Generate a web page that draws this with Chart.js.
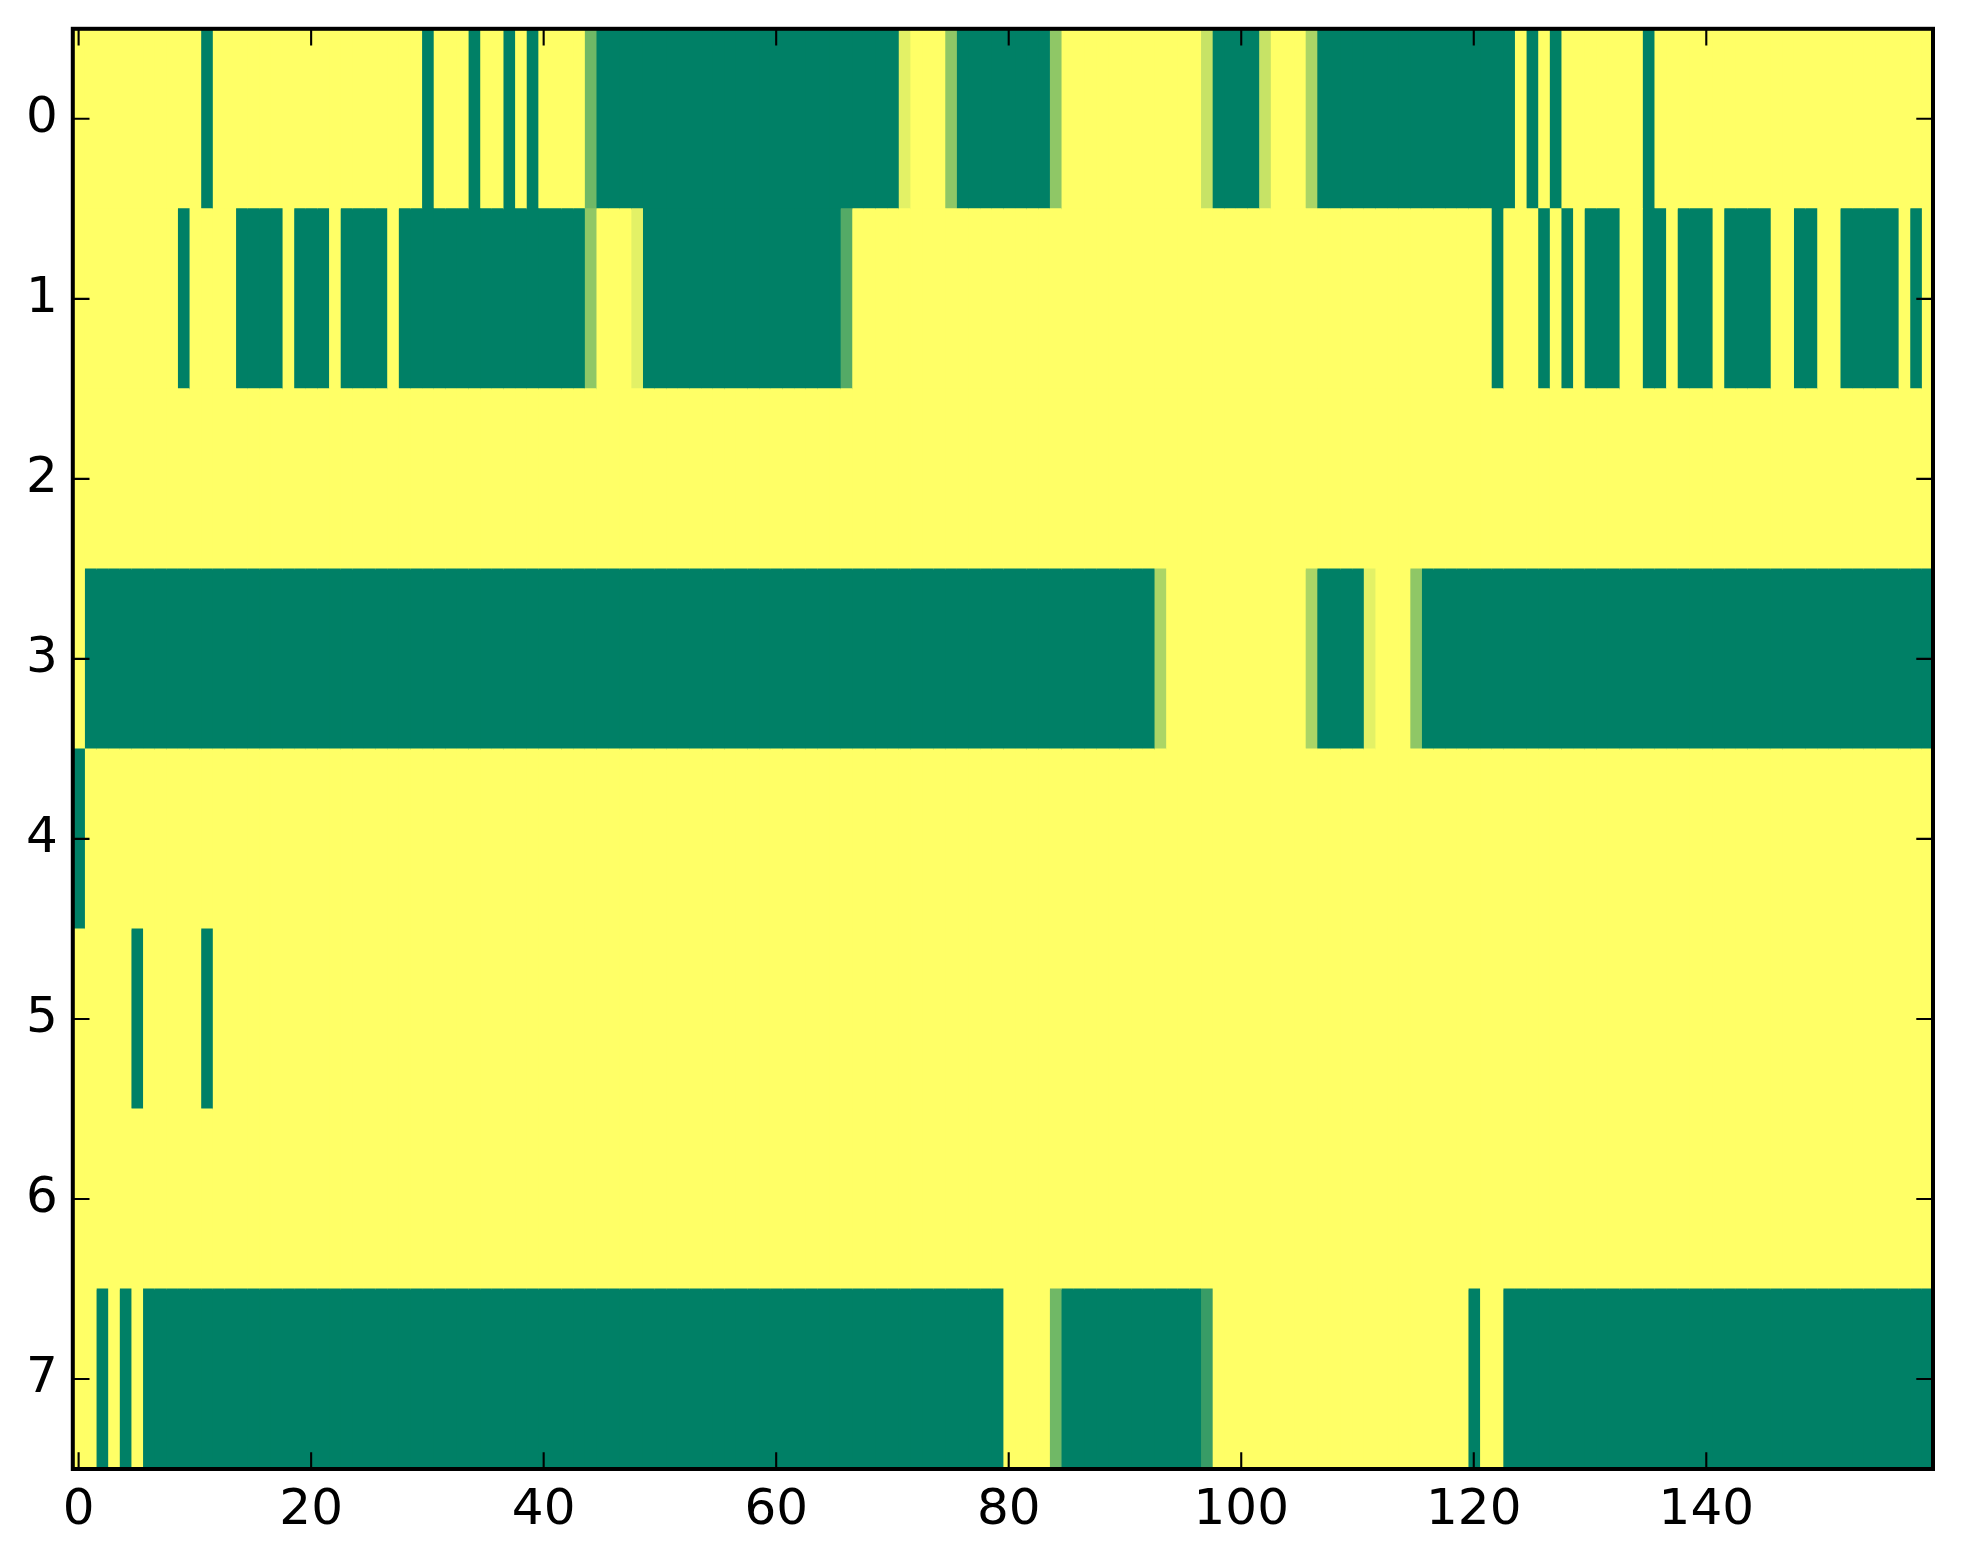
<!DOCTYPE html>
<html lang="en">
<head>
<meta charset="UTF-8">
<title>Heatmap</title>
<script src="https://cdn.jsdelivr.net/npm/chart.js@4.4.0/dist/chart.umd.min.js"></script>
<style>
    html, body { margin: 0; padding: 0; background: #fff; }
    #wrap { width: 1963px; height: 1564px; }
</style>
</head>
<body>
<div id="wrap"><canvas id="heat"></canvas></div>
<script>
// row labels (y axis) and x tick positions
const rowLabels = ['0', '1', '2', '3', '4', '5', '6', '7'];
const xTicks = [0, 20, 40, 60, 80, 100, 120, 140];

// cell values, 160 columns per row (0 = green, 1 = yellow)
const row0 = [
    1,1,1,1,1,1,1,1,1,1, 1,0,1,1,1,1,1,1,1,1,
    1,1,1,1,1,1,1,1,1,1, 0,1,1,1,0,1,1,0,1,0,
    1,1,1,1,0.44,0,0,0,0,0, 0,0,0,0,0,0,0,0,0,0,
    0,0,0,0,0,0,0,0,0,0, 0,0.89,1,1,1,0.56,0,0,0,0,
    0,0,0,0,0.56,1,1,1,1,1, 1,1,1,1,1,1,1,0.78,0,0,
    0,0,0.78,1,1,1,0.67,0,0,0, 0,0,0,0,0,0,0,0,0,0,
    0,0,0,0,1,0,1,0,1,1, 1,1,1,1,1,0,1,1,1,1,
    1,1,1,1,1,1,1,1,1,1, 1,1,1,1,1,1,1,1,1,1
];
const row1 = [
    1,1,1,1,1,1,1,1,1,0, 1,1,1,1,0,0,0,0,1,0,
    0,0,1,0,0,0,0,1,0,0, 0,0,0,0,0,0,0,0,0,0,
    0,0,0,0,0.56,1,1,1,0.89,0, 0,0,0,0,0,0,0,0,0,0,
    0,0,0,0,0,0,0.33,1,1,1, 1,1,1,1,1,1,1,1,1,1,
    1,1,1,1,1,1,1,1,1,1, 1,1,1,1,1,1,1,1,1,1,
    1,1,1,1,1,1,1,1,1,1, 1,1,1,1,1,1,1,1,1,1,
    1,1,0,1,1,1,0,1,0,1, 0,0,0,1,1,0,0,1,0,0,
    0,1,0,0,0,0,1,1,0,0, 1,1,0,0,0,0,0,1,0,1
];
const row2 = [
    1,1,1,1,1,1,1,1,1,1, 1,1,1,1,1,1,1,1,1,1,
    1,1,1,1,1,1,1,1,1,1, 1,1,1,1,1,1,1,1,1,1,
    1,1,1,1,1,1,1,1,1,1, 1,1,1,1,1,1,1,1,1,1,
    1,1,1,1,1,1,1,1,1,1, 1,1,1,1,1,1,1,1,1,1,
    1,1,1,1,1,1,1,1,1,1, 1,1,1,1,1,1,1,1,1,1,
    1,1,1,1,1,1,1,1,1,1, 1,1,1,1,1,1,1,1,1,1,
    1,1,1,1,1,1,1,1,1,1, 1,1,1,1,1,1,1,1,1,1,
    1,1,1,1,1,1,1,1,1,1, 1,1,1,1,1,1,1,1,1,1
];
const row3 = [
    1,0,0,0,0,0,0,0,0,0, 0,0,0,0,0,0,0,0,0,0,
    0,0,0,0,0,0,0,0,0,0, 0,0,0,0,0,0,0,0,0,0,
    0,0,0,0,0,0,0,0,0,0, 0,0,0,0,0,0,0,0,0,0,
    0,0,0,0,0,0,0,0,0,0, 0,0,0,0,0,0,0,0,0,0,
    0,0,0,0,0,0,0,0,0,0, 0,0,0,0.67,1,1,1,1,1,1,
    1,1,1,1,1,1,0.67,0,0,0, 0,0.89,1,1,1,0.56,0,0,0,0,
    0,0,0,0,0,0,0,0,0,0, 0,0,0,0,0,0,0,0,0,0,
    0,0,0,0,0,0,0,0,0,0, 0,0,0,0,0,0,0,0,0,0
];
const row4 = [
    0,1,1,1,1,1,1,1,1,1, 1,1,1,1,1,1,1,1,1,1,
    1,1,1,1,1,1,1,1,1,1, 1,1,1,1,1,1,1,1,1,1,
    1,1,1,1,1,1,1,1,1,1, 1,1,1,1,1,1,1,1,1,1,
    1,1,1,1,1,1,1,1,1,1, 1,1,1,1,1,1,1,1,1,1,
    1,1,1,1,1,1,1,1,1,1, 1,1,1,1,1,1,1,1,1,1,
    1,1,1,1,1,1,1,1,1,1, 1,1,1,1,1,1,1,1,1,1,
    1,1,1,1,1,1,1,1,1,1, 1,1,1,1,1,1,1,1,1,1,
    1,1,1,1,1,1,1,1,1,1, 1,1,1,1,1,1,1,1,1,1
];
const row5 = [
    1,1,1,1,1,0,1,1,1,1, 1,0,1,1,1,1,1,1,1,1,
    1,1,1,1,1,1,1,1,1,1, 1,1,1,1,1,1,1,1,1,1,
    1,1,1,1,1,1,1,1,1,1, 1,1,1,1,1,1,1,1,1,1,
    1,1,1,1,1,1,1,1,1,1, 1,1,1,1,1,1,1,1,1,1,
    1,1,1,1,1,1,1,1,1,1, 1,1,1,1,1,1,1,1,1,1,
    1,1,1,1,1,1,1,1,1,1, 1,1,1,1,1,1,1,1,1,1,
    1,1,1,1,1,1,1,1,1,1, 1,1,1,1,1,1,1,1,1,1,
    1,1,1,1,1,1,1,1,1,1, 1,1,1,1,1,1,1,1,1,1
];
const row6 = [
    1,1,1,1,1,1,1,1,1,1, 1,1,1,1,1,1,1,1,1,1,
    1,1,1,1,1,1,1,1,1,1, 1,1,1,1,1,1,1,1,1,1,
    1,1,1,1,1,1,1,1,1,1, 1,1,1,1,1,1,1,1,1,1,
    1,1,1,1,1,1,1,1,1,1, 1,1,1,1,1,1,1,1,1,1,
    1,1,1,1,1,1,1,1,1,1, 1,1,1,1,1,1,1,1,1,1,
    1,1,1,1,1,1,1,1,1,1, 1,1,1,1,1,1,1,1,1,1,
    1,1,1,1,1,1,1,1,1,1, 1,1,1,1,1,1,1,1,1,1,
    1,1,1,1,1,1,1,1,1,1, 1,1,1,1,1,1,1,1,1,1
];
const row7 = [
    1,1,0,1,0,1,0,0,0,0, 0,0,0,0,0,0,0,0,0,0,
    0,0,0,0,0,0,0,0,0,0, 0,0,0,0,0,0,0,0,0,0,
    0,0,0,0,0,0,0,0,0,0, 0,0,0,0,0,0,0,0,0,0,
    0,0,0,0,0,0,0,0,0,0, 0,0,0,0,0,0,0,0,0,0,
    1,1,1,1,0.44,0,0,0,0,0, 0,0,0,0,0,0,0,0.22,1,1,
    1,1,1,1,1,1,1,1,1,1, 1,1,1,1,1,1,1,1,1,1,
    0,1,1,0,0,0,0,0,0,0, 0,0,0,0,0,0,0,0,0,0,
    0,0,0,0,0,0,0,0,0,0, 0,0,0,0,0,0,0,0,0,0
];

const rows = [row0, row1, row2, row3, row4, row5, row6, row7];

// matplotlib "summer" colormap
function summer(v) {
    const r = Math.round(255 * v);
    const g = Math.round(255 * (0.5 + 0.5 * v));
    return `rgb(${r},${g},102)`;
}

// one dataset per column, each holding a floating bar for every row
const datasets = [];
for (let c = 0; c < row0.length; c++) {
    datasets.push({
        data: rows.map(() => [c - 0.5, c + 0.5]),
        backgroundColor: rows.map(r => summer(r[c])),
        borderWidth: 0,
        grouped: false,
        barPercentage: 1,
        categoryPercentage: 1,
        inflateAmount: 0.5
    });
}

// inward ticks on all four sides plus the black frame
const frameTicks = {
    id: 'frameTicks',
    afterDatasetsDraw(chart) {
        const { ctx, chartArea: a, scales: { x, y } } = chart;
        const len = 16.7;
        ctx.save();
        ctx.strokeStyle = '#000';
        ctx.lineWidth = 2.1;
        ctx.beginPath();
        xTicks.forEach(v => {
            const px = x.getPixelForValue(v);
            ctx.moveTo(px, a.bottom); ctx.lineTo(px, a.bottom - len);
            ctx.moveTo(px, a.top); ctx.lineTo(px, a.top + len);
        });
        rowLabels.forEach((_, i) => {
            const py = y.getPixelForValue(i);
            ctx.moveTo(a.left, py); ctx.lineTo(a.left + len, py);
            ctx.moveTo(a.right, py); ctx.lineTo(a.right - len, py);
        });
        ctx.stroke();
        ctx.lineWidth = 4;
        ctx.strokeRect(a.left, a.top, a.right - a.left, a.bottom - a.top);
        ctx.restore();
    }
};

const tickFont = { family: 'DejaVu Sans', size: 50 };

new Chart(document.getElementById('heat'), {
    type: 'bar',
    data: { labels: rowLabels, datasets },
    options: {
        indexAxis: 'y',
        responsive: true,
        maintainAspectRatio: false,
        animation: false,
        events: [],
        layout: { padding: { top: 28.8, right: 30, left: 0, bottom: 0 } },
        plugins: {
            legend: { display: false },
            tooltip: { enabled: false }
        },
        scales: {
            x: {
                type: 'linear',
                min: -0.5,
                max: 159.5,
                afterBuildTicks: s => { s.ticks = xTicks.map(v => ({ value: v })); },
                afterFit: s => {
                    s.height = 95;
                    s.paddingLeft = 0;
                    s.paddingRight = 0;
                },
                grid: { display: false, drawTicks: false },
                border: { display: false },
                ticks: {
                    font: tickFont,
                    color: '#000',
                    padding: 12,
                    maxRotation: 0,
                    autoSkip: false,
                    callback: v => String(v)
                }
            },
            y: {
                type: 'category',
                afterFit: s => {
                    s.width = 72.8;
                    s.paddingTop = 0;
                    s.paddingBottom = 0;
                },
                grid: { display: false, drawTicks: false },
                border: { display: false },
                ticks: {
                    font: tickFont,
                    color: '#000',
                    padding: 15
                }
            }
        }
    },
    plugins: [frameTicks]
});
</script>
</body>
</html>
